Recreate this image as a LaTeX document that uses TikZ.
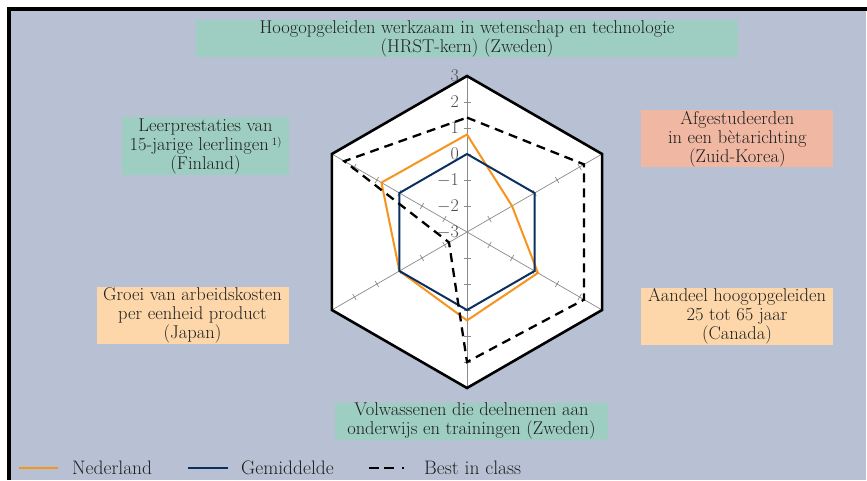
\documentclass[tikz,border=0pt]{standalone}
\usepackage{fontspec}
\definecolor{bgblue}{HTML}{B8C1D4}
\definecolor{boxgreen}{HTML}{9ECEC2}
\definecolor{boxsalmon}{HTML}{F0B7A2}
\definecolor{boxpeach}{HTML}{FDD7A9}
\definecolor{nlorange}{HTML}{F7941E}
\definecolor{avgnavy}{HTML}{0B2F5E}
\definecolor{axisgray}{HTML}{8A8A8A}
\definecolor{txt}{HTML}{202020}
\begin{document}
\begin{tikzpicture}[x=1pt,y=1pt,
  lbl/.style={font=\fontsize{18.5}{19}\selectfont, align=center, inner sep=0pt, text=txt},
  greenbox/.style={lbl, fill=boxgreen},
  salmonbox/.style={lbl, fill=boxsalmon},
  peachbox/.style={lbl, fill=boxpeach},
  axisline/.style={draw=axisgray, line width=0.7pt},
  ticklbl/.style={font=\fontsize{18}{18}\selectfont, text=black!70, inner sep=0pt, anchor=east},
  nlline/.style={draw=nlorange, line width=2pt, line join=miter},
  avgline/.style={draw=avgnavy, line width=2pt, line join=miter},
  bestline/.style={draw=black, line width=2.3pt, dash pattern=on 9pt off 6pt},
  legtext/.style={font=\fontsize{19.5}{19}\selectfont, anchor=west, inner sep=0pt, text=txt}
]
\useasboundingbox (0,0) rectangle (867,480);
\fill[white] (0,0) rectangle (867,480);
\fill[bgblue] (11,0) rectangle (866,469);
\fill[black] (7,0) rectangle (11,473);
\fill[black] (7,469) rectangle (867,473);

% boxes
\node[greenbox, minimum width=542, minimum height=37] (top) at (467,441.5)
  {Hoogopgeleiden werkzaam in wetenschap en technologie\\(HRST-kern) (Zweden)};
\node[greenbox, minimum width=167, minimum height=58] (ul) at (205.5,334)
  {Leerprestaties van\\15-jarige leerlingen\,\raisebox{0.6ex}{\fontsize{11}{11}\selectfont 1)}\\(Finland)};
\node[salmonbox, minimum width=192, minimum height=57] (ur) at (737.3,341)
  {Afgestudeerden\\in een bètarichting\\(Zuid-Korea)};
\node[peachbox, minimum width=192, minimum height=57] (ll) at (192.5,164.5)
  {Groei van arbeidskosten\\per eenheid product\\(Japan)};
\node[peachbox, minimum width=192, minimum height=57] (lr) at (737,163.5)
  {Aandeel hoogopgeleiden\\25 tot 65 jaar\\(Canada)};
\node[greenbox, minimum width=273, minimum height=37.5] (bot) at (471.5,58.7)
  {Volwassenen die deelnemen aan\\onderwijs en trainingen (Zweden)};

% radar
\begin{scope}[shift={(467,248)}]
  \coordinate (C) at (0,0);
  \foreach \a/\n in {90/v1,30/v2,-30/v3,-90/v4,-150/v5,150/v6}
    \coordinate (\n) at (\a:156);
  \fill[white] (v1) -- (v2) -- (v3) -- (v4) -- (v5) -- (v6) -- cycle;
  \draw[axisline] (v1) -- (v4);
  \draw[axisline] (v2) -- (v5);
  \draw[axisline] (v3) -- (v6);
  \foreach \a in {90,30,-30,-90,-150,150}
    \foreach \r in {26,52,78,104,130}
      \draw[axisline] (\a:\r) ++(\a+90:3.5) -- ++(\a-90:7);
  \draw[black, line width=2.6pt, line join=miter] (v1) -- (v2) -- (v3) -- (v4) -- (v5) -- (v6) -- cycle;
  % tick labels
  \foreach \v/\t in {3/3,2/2,1/1,0/0,-1/$-$1,-2/$-$2,-3/$-$3}
    \node[ticklbl] (t\v) at (-8,{(\v+3)*26}) {\t};
  % Nederland
  \draw[nlline] (90:{(0.75+3)*26}) -- (30:{(-1+3)*26}) -- (-30:{(0.15+3)*26})
    -- (-90:{(0.4+3)*26}) -- (-150:{(0+3)*26}) -- (150:{(0.8+3)*26}) -- cycle;
  % Gemiddelde
  \draw[avgline] (90:78) -- (30:78) -- (-30:78) -- (-90:78) -- (-150:78) -- (150:78) -- cycle;
  % Best in class
  \draw[bestline] (90:{(1.4+3)*26}) -- (30:{(2.2+3)*26}) -- (-30:{(2.2+3)*26})
    -- (-90:{(2.0+3)*26}) -- (-150:{(-2.2+3)*26}) -- (150:{(2.45+3)*26}) -- cycle;
\end{scope}

% legend
\coordinate (la1) at (19,12); \coordinate (la2) at (58,12);
\draw[draw=nlorange, line width=2pt] (la1) -- (la2);
\node[legtext] (ln) at (72,12) {Nederland};
\coordinate (lb1) at (188,12); \coordinate (lb2) at (228,12);
\draw[draw=avgnavy, line width=2pt] (lb1) -- (lb2);
\node[legtext] (lg) at (241,12) {Gemiddelde};
\coordinate (lc1) at (369,12); \coordinate (lc2) at (408,12);
\draw[black, line width=2.3pt, dash pattern=on 10pt off 5pt on 10pt off 8pt on 2pt off 20pt] (lc1) -- (lc2);
\node[legtext] (lbest) at (424,12) {Best in class};
\end{tikzpicture}
\end{document}
